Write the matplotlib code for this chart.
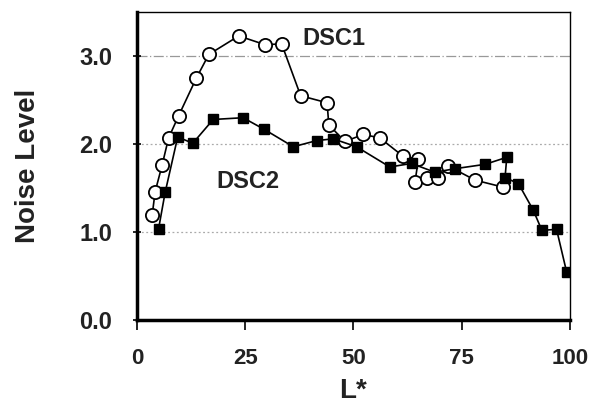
import matplotlib.pyplot as plt

plt.rcParams['font.family'] = ['Liberation Sans', 'DejaVu Sans']

# DSC1 (open circles)
dsc1_L = [3.5, 4.2, 5.8, 7.3, 9.6, 13.7, 16.6, 23.5, 29.6, 33.4, 37.8, 43.9, 44.3,
          48.0, 52.3, 56.1, 61.5, 65.0, 64.2, 66.9, 69.6, 71.9, 78.1, 84.6]
dsc1_noise = [1.19, 1.46, 1.76, 2.07, 2.32, 2.75, 3.02, 3.23, 3.13, 3.14, 2.55, 2.47, 2.22,
              2.03, 2.11, 2.07, 1.86, 1.83, 1.57, 1.62, 1.62, 1.75, 1.59, 1.51]

# DSC2 (filled squares)
dsc2_L = [5.0, 6.5, 9.4, 12.9, 17.6, 24.5, 29.3, 36.1, 41.5, 45.3, 50.7, 58.4,
          63.4, 68.8, 73.4, 80.4, 85.4, 85.0, 88.1, 91.5, 93.5, 96.9, 99.2]
dsc2_noise = [1.04, 1.45, 2.08, 2.01, 2.28, 2.30, 2.17, 1.97, 2.04, 2.06, 1.97, 1.74,
              1.78, 1.68, 1.72, 1.77, 1.85, 1.62, 1.55, 1.25, 1.02, 1.03, 0.55]

xticks = [0, 25, 50, 75, 100]
yticks = [0.0, 1.0, 2.0, 3.0]

fig = plt.figure(figsize=(5.94, 4.05), dpi=100)
ax = fig.add_axes([0.2306, 0.2099, 0.729, 0.760])

# grid lines
ax.axhline(3.0, color='#999999', linewidth=0.9, dashes=(8, 2, 1, 2), zorder=1)
for yv in (1.0, 2.0):
    ax.axhline(yv, color='#aaaaaa', linewidth=0.9, dashes=(1.5, 2), zorder=1)

ax.plot(dsc1_L, dsc1_noise, color='black', linewidth=1.2, marker='o', markersize=9.5,
        markerfacecolor='white', markeredgecolor='black', markeredgewidth=1.3, zorder=3)
ax.plot(dsc2_L, dsc2_noise, color='black', linewidth=1.2, marker='s', markersize=7.5,
        markerfacecolor='black', markeredgecolor='black', zorder=4)

ax.text(45.5, 3.2, 'DSC1', fontsize=17, fontweight='bold', color='#222222',
        ha='center', va='center')
ax.text(25.7, 1.58, 'DSC2', fontsize=17, fontweight='bold', color='#222222',
        ha='center', va='center')

ax.set_xlim(0, 100)
ax.set_ylim(0, 3.5)
ax.set_xticks(xticks)
ax.set_yticks(yticks)
ax.set_yticklabels(['%.1f' % v for v in yticks])
ax.tick_params(axis='x', labelsize=16, width=1.2, length=7, direction='out', pad=13)
ax.tick_params(axis='y', labelsize=17, width=1.2, length=6, direction='inout', pad=15)
for lab in ax.get_xticklabels() + ax.get_yticklabels():
    lab.set_fontweight('bold')
    lab.set_color('#222222')

ax.spines['left'].set_linewidth(2.5)
ax.spines['bottom'].set_linewidth(2.5)
ax.spines['top'].set_linewidth(1.0)
ax.spines['right'].set_linewidth(1.0)

ax.set_xlabel('L*', fontsize=20, fontweight='bold', color='#222222')
ax.set_ylabel('Noise Level', fontsize=20, fontweight='bold', color='#222222')
ax.xaxis.set_label_coords(0.5, -0.19)
ax.yaxis.set_label_coords(-0.222, 0.5)

plt.savefig('out.png', dpi=100)
